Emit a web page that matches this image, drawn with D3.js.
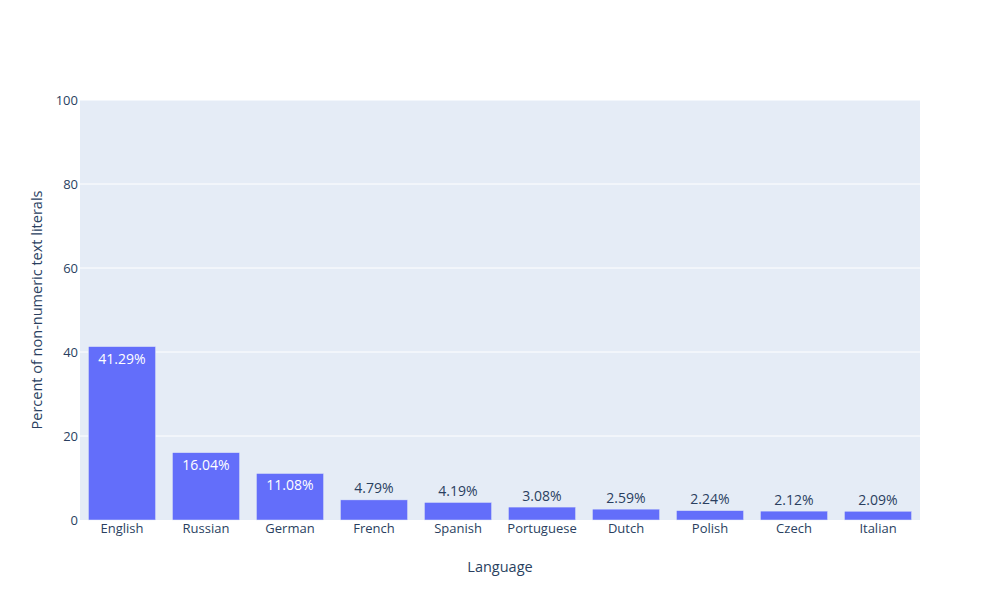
<!DOCTYPE html>
<html><head><meta charset="utf-8">
<script src="https://cdn.jsdelivr.net/npm/d3@7"></script>
<style>body{margin:0;background:#fff}svg{display:block}text{font-family:"Open Sans",verdana,arial,sans-serif}</style>
</head><body><svg id="c" width="1000" height="600"></svg>
<script>
const languages = ["English","Russian","German","French","Spanish","Portuguese","Dutch","Polish","Czech","Italian"];
const percents = [41.29,16.04,11.08,4.79,4.19,3.08,2.59,2.24,2.12,2.09];
const yTicks = [0,20,40,60,80,100];
const xTitle = "Language";
const yTitle = "Percent of non-numeric text literals";

const svg = d3.select("#c");
const m = {l:80, r:80, t:100, b:80};
const W = 1000, H = 600;
const pw = W - m.l - m.r, ph = H - m.t - m.b;
const g = svg.append("g").attr("transform", `translate(${m.l},${m.t})`);
g.append("rect").attr("width", pw).attr("height", ph).attr("fill", "#E5ECF6");

const x = d3.scaleBand().domain(languages).range([0, pw]).paddingInner(0.2).paddingOuter(0.1);
const y = d3.scaleLinear().domain([0, 100]).range([ph, 0]);

g.append("g").selectAll("line").data(yTicks.filter(t => t > 0)).join("line")
  .attr("x1", 0).attr("x2", pw).attr("y1", d => y(d)).attr("y2", d => y(d))
  .attr("stroke", "#fff").attr("stroke-width", 1);

const ff = '"Open Sans",verdana,arial,sans-serif';
const yAxis = g.append("g").call(d3.axisLeft(y).tickValues(yTicks).tickSize(0).tickPadding(2));
yAxis.select(".domain").remove();
yAxis.selectAll("text").attr("fill", "#2a3f5f").style("font-size", "13px").style("font-family", ff);

const xAxis = g.append("g").attr("transform", `translate(0,${ph})`).call(d3.axisBottom(x).tickSize(0).tickPadding(4));
xAxis.select(".domain").remove();
xAxis.selectAll("text").attr("fill", "#2a3f5f").style("font-size", "13px").style("font-family", ff);

g.selectAll("rect.bar").data(percents).join("rect").attr("class", "bar")
  .attr("x", (d, i) => x(languages[i])).attr("width", x.bandwidth())
  .attr("y", d => y(d)).attr("height", d => ph - y(d))
  .attr("fill", "#636efa").attr("stroke", "#E5ECF6").attr("stroke-width", 0.5);

g.selectAll("text.lbl").data(percents).join("text").attr("class", "lbl")
  .attr("x", (d, i) => x(languages[i]) + x.bandwidth() / 2)
  .attr("y", d => (ph - y(d)) > 30 ? y(d) + 17 : y(d) - 6.5)
  .attr("text-anchor", "middle")
  .attr("fill", d => (ph - y(d)) > 30 ? "#fff" : "#2a3f5f")
  .style("font-size", "14px")
  .text(d => d.toFixed(2) + "%");

svg.append("text").attr("x", m.l + pw / 2).attr("y", 572).attr("text-anchor", "middle")
  .attr("fill", "#2a3f5f").style("font-size", "14.5px").text(xTitle);
svg.append("text").attr("transform", `translate(42,${m.t + ph / 2}) rotate(-90)`).attr("text-anchor", "middle")
  .attr("fill", "#2a3f5f").style("font-size", "14.5px").text(yTitle);
</script></body></html>
